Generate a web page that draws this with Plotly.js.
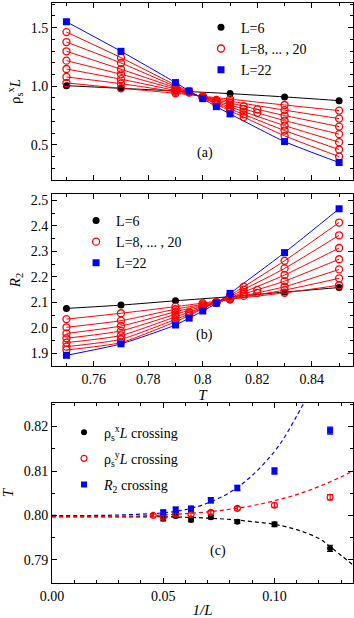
<!DOCTYPE html>
<html>
<head>
<meta charset="utf-8">
<script src="https://cdn.plot.ly/plotly-3.0.1.min.js"></script>
<style>
  html, body { margin: 0; padding: 0; background: #fff; }
  #chart { width: 354px; height: 618px; }
</style>
</head>
<body>
<div id="chart"></div>
<script>
// ============================================================================
// Finite-size crossings: rho_s^x L, R2 vs T, and crossing temperatures vs 1/L
// ============================================================================

// ---- panel (a) and (b): L=6 and L=22 --------------------------------------
const tL6 = [0.75, 0.77, 0.79, 0.81, 0.83, 0.85];
const rhoL6 = [1.005, 0.982, 0.960, 0.937, 0.909, 0.877];
const r2L6 = [2.076, 2.089, 2.106, 2.122, 2.140, 2.158];

const tL22 = [0.75, 0.77, 0.79, 0.795, 0.80, 0.805, 0.81, 0.83, 0.85];
const rhoL22 = [1.550, 1.298, 1.031, 0.960, 0.894, 0.826, 0.764, 0.528, 0.349];
const r2L22 = [1.892, 1.937, 2.011, 2.038, 2.066, 2.096, 2.135, 2.295, 2.467];

// ---- L = 8, 10, ..., 20 ----------------------------------------------------
const midSizes = [8, 10, 12, 14, 16, 18, 20];
const tMid = [
    [0.75, 0.77, 0.79, 0.80, 0.81, 0.83, 0.85],
    [0.75, 0.77, 0.79, 0.80, 0.81, 0.83, 0.85],
    [0.75, 0.77, 0.79, 0.80, 0.805, 0.81, 0.815, 0.82, 0.83, 0.85],
    [0.75, 0.77, 0.79, 0.80, 0.805, 0.81, 0.815, 0.82, 0.83, 0.85],
    [0.75, 0.77, 0.79, 0.795, 0.80, 0.805, 0.81, 0.815, 0.83, 0.85],
    [0.75, 0.77, 0.79, 0.795, 0.80, 0.805, 0.81, 0.815, 0.83, 0.85],
    [0.75, 0.77, 0.79, 0.795, 0.80, 0.805, 0.81, 0.815, 0.83, 0.85]
];
const rhoMid = [
    [1.028, 0.983, 0.940, 0.915, 0.890, 0.840, 0.792],
    [1.079, 1.022, 0.952, 0.912, 0.873, 0.796, 0.724],
    [1.147, 1.060, 0.963, 0.910, 0.883, 0.857, 0.830, 0.803, 0.750, 0.656],
    [1.218, 1.102, 0.975, 0.907, 0.873, 0.840, 0.807, 0.773, 0.707, 0.591],
    [1.298, 1.145, 0.987, 0.946, 0.905, 0.864, 0.823, 0.783, 0.664, 0.523],
    [1.377, 1.198, 0.998, 0.950, 0.902, 0.854, 0.806, 0.760, 0.622, 0.460],
    [1.462, 1.244, 1.010, 0.955, 0.900, 0.845, 0.790, 0.737, 0.577, 0.400]
];
const r2Mid = [
    [2.034, 2.057, 2.083, 2.097, 2.112, 2.137, 2.167],
    [2.002, 2.028, 2.073, 2.092, 2.112, 2.148, 2.194],
    [1.978, 2.007, 2.063, 2.088, 2.100, 2.113, 2.125, 2.137, 2.161, 2.229],
    [1.959, 1.988, 2.053, 2.084, 2.099, 2.115, 2.132, 2.149, 2.183, 2.269],
    [1.942, 1.970, 2.043, 2.061, 2.080, 2.099, 2.118, 2.140, 2.207, 2.313],
    [1.926, 1.955, 2.033, 2.054, 2.077, 2.100, 2.122, 2.150, 2.233, 2.363],
    [1.913, 1.942, 2.024, 2.048, 2.075, 2.101, 2.127, 2.161, 2.263, 2.413]
];

// ---- panel (c): crossing temperatures --------------------------------------
const invLx = [0.05, 0.0556, 0.0625, 0.0714, 0.0833, 0.1, 0.125];
const crossRhoX = [0.7993, 0.7999, 0.7990, 0.7996, 0.7986, 0.7980, 0.7926];
const errRhoX = [0.0005, 0.0004, 0.0004, 0.0004, 0.0004, 0.0005, 0.0007];

const invLy = [0.0455, 0.05, 0.0556, 0.0625, 0.0714, 0.0833, 0.1, 0.125];
const crossRhoY = [0.8000, 0.7996, 0.8003, 0.8002, 0.8007, 0.8016, 0.8023, 0.8041];
const errRhoY = [0.0003, 0.0004, 0.0004, 0.0004, 0.0004, 0.0004, 0.0005, 0.0006];

const invLr = [0.05, 0.0556, 0.0625, 0.0714, 0.0833, 0.1, 0.125];
const crossR2 = [0.8007, 0.8013, 0.8015, 0.8034, 0.8062, 0.8100, 0.8191];
const errR2 = [0.0005, 0.0006, 0.0006, 0.0006, 0.0006, 0.0007, 0.0008];

// dashed fits
const fitXR2 = [0, 0.02, 0.03, 0.04, 0.05, 0.06, 0.07, 0.08, 0.09, 0.10, 0.105, 0.11, 0.1135];
const fitR2 = [0.8000, 0.8000, 0.8001, 0.8003, 0.8006, 0.8013, 0.8028, 0.8052, 0.8090, 0.8144, 0.8180, 0.8224, 0.8256];
const fitXRhoY = [0, 0.02, 0.04, 0.05, 0.06, 0.07, 0.08, 0.09, 0.10, 0.11, 0.12, 0.13, 0.136];
const fitRhoY = [0.7998, 0.7998, 0.7999, 0.8001, 0.8004, 0.8008, 0.8014, 0.8022, 0.8033, 0.8047, 0.8065, 0.8087, 0.8102];
const fitXRhoX = [0, 0.04, 0.05, 0.06, 0.07, 0.08, 0.09, 0.10, 0.11, 0.12, 0.125, 0.13, 0.136];
const fitRhoX = [0.7997, 0.7997, 0.7997, 0.7996, 0.7994, 0.7991, 0.7986, 0.7980, 0.7968, 0.7948, 0.7930, 0.7910, 0.7886];

const FONT = 'Liberation Serif, Times New Roman, serif';
const BLACK = '#000000';
const RED = '#ff0000';
const BLUE = '#0000ff';

function lineTrace(x, y, color, xa, ya) {
    return { x: x, y: y, xaxis: xa, yaxis: ya, type: 'scatter', mode: 'lines',
             line: { color: color, width: 1, shape: 'spline', smoothing: 0.6 },
             showlegend: false, hoverinfo: 'skip' };
}

function markTrace(x, y, marker, xa, ya, name, legend, show) {
    return { x: x, y: y, xaxis: xa, yaxis: ya, type: 'scatter', mode: 'markers',
             marker: marker, name: name, legend: legend, showlegend: show };
}

const mkBlack = { symbol: 'circle', size: 7, color: BLACK };
const mkRed = { symbol: 'circle-open', size: 7, color: RED, line: { width: 1.3, color: RED } };
const mkBlue = { symbol: 'square', size: 7, color: BLUE };

// panels (a) and (b) share the same set of traces
function sweepTraces(yL6, yMid, yL22, xa, ya, legend) {
    const out = [];
    out.push(lineTrace(tL6, yL6, BLACK, xa, ya));
    midSizes.forEach((L, i) => out.push(lineTrace(tMid[i], yMid[i], RED, xa, ya)));
    out.push(lineTrace(tL22, yL22, BLUE, xa, ya));
    out.push(markTrace(tL6, yL6, mkBlack, xa, ya, 'L=6', legend, true));
    midSizes.forEach((L, i) => out.push(markTrace(tMid[i], yMid[i], mkRed, xa, ya,
        'L=8, ... , 20', legend, i === 0)));
    out.push(markTrace(tL22, yL22, mkBlue, xa, ya, 'L=22', legend, true));
    return out;
}

const traces = [
    ...sweepTraces(rhoL6, rhoMid, rhoL22, 'x', 'y', 'legend'),
    ...sweepTraces(r2L6, r2Mid, r2L22, 'x2', 'y2', 'legend2')
];

// panel (c)
const dash = (x, y, color) => ({ x: x, y: y, xaxis: 'x3', yaxis: 'y3', type: 'scatter', mode: 'lines',
    line: { color: color, width: 1.2, dash: '4px,3px', shape: 'spline' }, showlegend: false, hoverinfo: 'skip' });
traces.push(dash(fitXRhoX, fitRhoX, BLACK));
traces.push(dash(fitXRhoY, fitRhoY, RED));
traces.push(dash(fitXR2, fitR2, BLUE));

const errBar = (arr, color) => ({ type: 'data', array: arr, visible: true, color: color, thickness: 1.2, width: 3 });
traces.push({ x: invLx, y: crossRhoX, xaxis: 'x3', yaxis: 'y3', type: 'scatter', mode: 'markers',
    marker: { symbol: 'circle', size: 6, color: BLACK }, error_y: errBar(errRhoX, BLACK),
    name: '\u03c1<sub>s</sub><sup>x</sup><i>L</i> crossing', legend: 'legend3', legendgroup: 'rx' });
traces.push({ x: invLy, y: crossRhoY, xaxis: 'x3', yaxis: 'y3', type: 'scatter', mode: 'markers',
    marker: { symbol: 'circle-open', size: 6, color: RED, line: { width: 1.2, color: RED } },
    error_y: errBar(errRhoY, RED),
    name: '\u03c1<sub>s</sub><sup>y</sup><i>L</i> crossing', legend: 'legend3', legendgroup: 'ry' });
traces.push({ x: invLr, y: crossR2, xaxis: 'x3', yaxis: 'y3', type: 'scatter', mode: 'markers',
    marker: { symbol: 'square', size: 6, color: BLUE }, error_y: errBar(errR2, BLUE),
    name: '<i>R</i><sub>2</sub> crossing', legend: 'legend3', legendgroup: 'r2' });

function axis(extra) {
    return Object.assign({
        showline: true, linecolor: BLACK, linewidth: 1, mirror: 'allticks',
        ticks: 'inside', ticklen: 5, tickwidth: 1, tickcolor: BLACK,
        showgrid: false, zeroline: false, automargin: false,
        tickfont: { family: FONT, size: 14, color: BLACK }
    }, extra);
}
function minor(dt) {
    return { ticks: 'inside', ticklen: 3, tickwidth: 1, tickcolor: BLACK, dtick: dt, showgrid: false };
}
function legendBox(x, y, gap) {
    return { x: x, y: y, xanchor: 'left', yanchor: 'top', bgcolor: 'rgba(0,0,0,0)',
             tracegroupgap: gap || 0,
             font: { family: FONT, size: 14, color: BLACK }, itemclick: false };
}
function panelTag(text, xref, yref, x, y) {
    return { text: text, xref: xref, yref: yref, x: x, y: y, showarrow: false,
             font: { family: FONT, size: 14, color: BLACK } };
}

const layout = {
    width: 354, height: 618,
    margin: { l: 52, r: 1, t: 3, b: 35 },
    paper_bgcolor: '#ffffff', plot_bgcolor: '#ffffff',
    font: { family: FONT, size: 14, color: BLACK },
    xaxis: axis({ domain: [0, 1], anchor: 'y', range: [0.7447, 0.8551], dtick: 0.02, tick0: 0.74,
                  showticklabels: false, minor: minor(0.01) }),
    yaxis: axis({ domain: [0.6948, 1], anchor: 'x', range: [0.20, 1.71], dtick: 0.5, tick0: 0,
                  tickformat: '.1f', minor: minor(0.1),
                  title: { text: '\u03c1<sub>s</sub><sup>x</sup><i>L</i>', standoff: 6,
                           font: { family: FONT, size: 15 } } }),
    xaxis2: axis({ domain: [0, 1], anchor: 'y2', range: [0.7447, 0.8551], dtick: 0.02, tick0: 0.74,
                   minor: minor(0.01),
                   title: { text: '<i>T</i>', standoff: 2, font: { family: FONT, size: 15 } } }),
    yaxis2: axis({ domain: [0.3741, 0.6707], anchor: 'x2', range: [1.85, 2.525], dtick: 0.1, tick0: 0,
                   tickformat: '.1f', minor: minor(0.05),
                   title: { text: '<i>R</i><sub>2</sub>', standoff: 6, font: { family: FONT, size: 15 } } }),
    xaxis3: axis({ domain: [0, 1], anchor: 'y3', range: [0, 0.1353], dtick: 0.05, tick0: 0,
                   tickformat: '.2f', minor: minor(0.01),
                   title: { text: '<i>1/L</i>', standoff: 2, font: { family: FONT, size: 15 } } }),
    yaxis3: axis({ domain: [0, 0.3103], anchor: 'x3', range: [0.7848, 0.8253], dtick: 0.01, tick0: 0.78,
                   tickformat: '.2f', minor: minor(0.005),
                   title: { text: '<i>T</i>', standoff: 6, font: { family: FONT, size: 15 } } }),
    legend: legendBox(0.495, 0.985),
    legend2: legendBox(0.08, 0.652),
    legend3: legendBox(0.04, 0.287, 5),
    annotations: [
        panelTag('(a)', 'x domain', 'y domain', 0.508, 0.096),
        panelTag('(b)', 'x2 domain', 'y2 domain', 0.508, 0.122),
        panelTag('(c)', 'x3 domain', 'y3 domain', 0.551, 0.122)
    ]
};

Plotly.newPlot('chart', traces, layout, { displayModeBar: false, staticPlot: true });
</script>
</body>
</html>
